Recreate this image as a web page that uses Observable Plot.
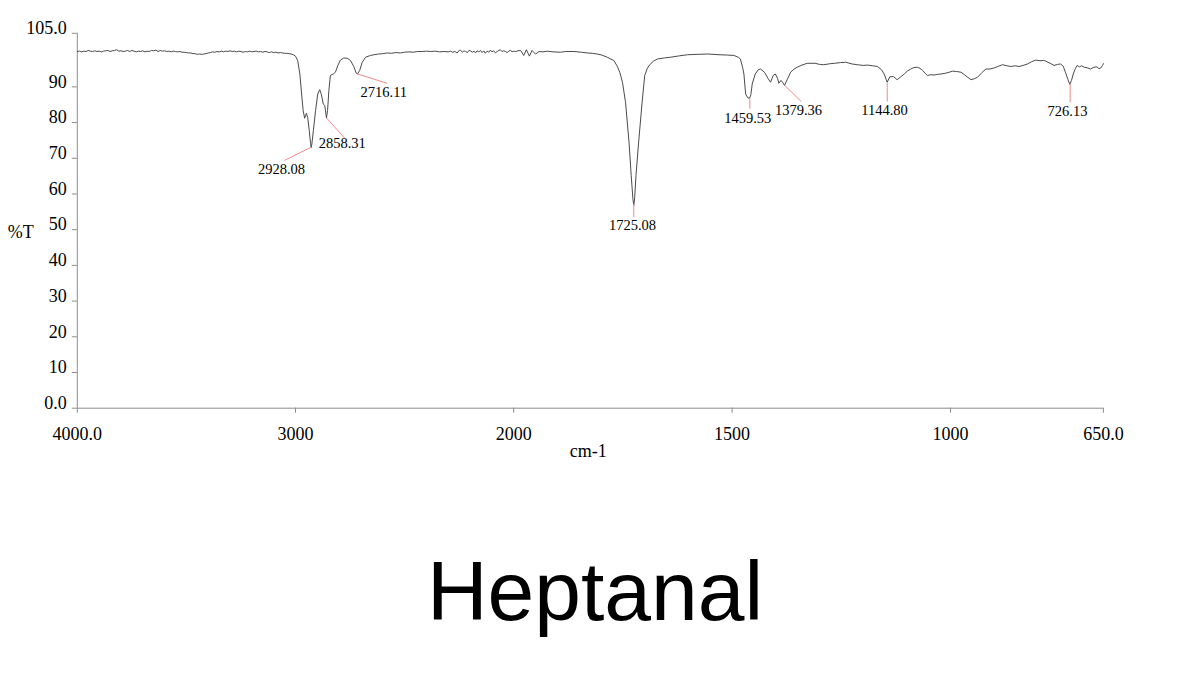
<!DOCTYPE html>
<html><head><meta charset="utf-8">
<script src="https://cdn.jsdelivr.net/npm/d3@7"></script>
<script src="https://cdn.jsdelivr.net/npm/@observablehq/plot@0.6"></script>
<style>
body{margin:0;background:#fff;width:1200px;height:685px;position:relative;overflow:hidden}
#chart{position:absolute;left:0;top:0}
#title{position:absolute;left:0;top:549px;width:1190px;text-align:center;font-family:"Liberation Sans",Arial,sans-serif;font-size:84px;line-height:1;color:#000}
</style></head><body>
<div id="chart"></div>
<div id="title">Heptanal</div>
<script>
// Spectrum (wavenumber cm-1, %T)
const wavenumbers = [
4000,3990,3980,3970,3960,3950,3940,3930,3920,3910,3900,3890,3880,3870,3860,3850,3840,3830,3820,3810,
3800,3790,3780,3770,3760,3750,3740,3730,3720,3710,3700,3690,3680,3670,3660,3650,3640,3630,3620,3610,
3600,3590,3580,3570,3560,3550,3540,3530,3520,3510,3500,3490,3480,3470,3460,3450,3440,3430,3420,3410,
3400,3390,3380,3370,3360,3350,3340,3330,3320,3310,3300,3290,3280,3270,3260,3250,3240,3230,3220,3210,
3200,3190,3180,3170,3160,3150,3140,3130,3120,3110,3100,3090,3080,3070,3060,3050,3040,3030,3020,3010,
3000,2990,2980,2972,2965,2958,2950,2944,2937,2931,2928,2925,2918,2908,2898,2889,2881,2873,2866,2858,
2853,2847,2840,2827,2817,2806,2794,2779,2763,2748,2733,2722,2716,2706,2694,2679,2656,2640,2620,2600,
2580,2560,2540,2520,2500,2480,2460,2440,2420,2400,2380,2360,2340,2320,2300,2290,2280,2270,2259,2250,
2244,2235,2228,2221,2212,2205,2198,2190,2182,2175,2168,2160,2152,2145,2137,2130,2122,2114,2107,2100,
2092,2084,2076,2068,2061,2054,2046,2038,2030,2022,2015,2008,2000,1996,1990,1984,1977,1971,1964,1958,
1950,1942,1933,1923,1910,1893,1880,1862,1845,1832,1820,1809,1798,1786,1771,1763,1757,1751,1744,1736,
1731,1727,1725,1723,1720,1714,1706,1700,1694,1690,1680,1671,1655,1641,1620,1602,1580,1556,1530,1510,
1496,1486,1481,1476,1473,1469,1464,1460,1457,1454,1447,1440,1435,1426,1418,1412,1406,1401,1396,1393,
1388,1384,1380,1374,1366,1358,1351,1340,1328,1310,1300,1290,1275,1265,1252,1240,1225,1213,1200,1190,
1178,1167,1158,1152,1145,1139,1131,1122,1114,1106,1098,1091,1084,1076,1070,1064,1058,1053,1045,1038,
1030,1022,1012,1003,995,986,976,968,962,953,945,938,928,919,910,900,890,881,871,862,
852,843,834,824,815,805,795,787,782,772,763,755,748,742,737,731,727,723,719,714,
710,705,700,694,686,679,672,665,660,656,652,650
];
const transmittance = [
99.9,100.0,99.8,100.0,99.9,100.2,100.0,99.9,100.1,99.9,100.0,99.8,100.0,100.1,100.2,99.9,100.1,100.2,100.4,100.0,
100.1,99.9,100.0,100.2,99.9,100.2,100.0,99.8,100.0,99.9,100.1,99.8,100.0,99.9,100.2,100.1,100.3,99.9,100.2,100.0,
100.1,99.9,100.0,99.8,100.0,99.9,99.8,99.9,99.7,99.7,99.6,99.5,99.5,99.3,99.3,99.1,99.2,99.1,99.2,99.3,
99.5,99.6,99.8,99.7,99.9,99.8,100.0,99.8,100.0,99.9,100.1,99.9,100.0,99.8,100.0,99.9,99.7,99.9,99.8,100.0,
99.8,99.9,100.0,99.8,99.9,99.7,99.9,99.8,99.6,99.8,99.6,99.7,99.5,99.6,99.5,99.4,99.4,99.3,99.2,99.0,
98.6,97.4,93.6,88.0,83.4,81.2,82.6,81.4,77.8,74.2,73.0,74.0,77.8,83.4,88.0,89.2,87.8,85.2,84.8,81.3,
83.4,89.0,93.2,93.6,94.1,96.0,97.5,98.1,98.0,97.4,95.7,93.9,93.6,94.6,96.9,98.3,98.8,99.0,99.2,99.3,
99.5,99.4,99.6,99.5,99.7,99.8,99.7,99.9,99.9,100.0,99.9,100.0,99.8,99.9,99.8,100.0,99.7,99.9,99.5,100.2,
100.3,99.7,100.1,99.9,99.6,100.2,100.1,99.7,100.0,99.5,100.1,99.8,100.2,99.6,100.1,99.4,100.0,99.7,100.3,99.8,
100.1,99.5,99.9,100.2,100.4,99.9,100.1,99.9,99.6,100.0,100.3,99.8,100.0,99.9,100.1,100.2,98.8,100.4,98.6,100.2,
99.2,99.9,99.8,100.0,99.8,99.7,99.9,99.9,99.7,99.5,99.4,99.2,98.9,98.3,97.4,95.8,94.0,91.3,85.7,74.5,
65.2,58.5,56.8,59.0,65.2,74.5,85.7,93.2,95.2,96.0,97.2,97.8,98.1,98.3,98.7,99.0,99.1,99.2,99.0,98.9,
98.8,98.3,97.8,95.5,93.6,88.0,86.9,86.8,87.8,90.8,93.6,94.8,95.0,94.1,92.4,91.3,93.2,93.6,92.4,91.0,
91.8,91.2,90.4,92.0,94.1,95.0,95.5,96.1,96.6,96.6,96.3,96.2,96.5,96.6,96.8,96.9,96.4,96.2,96.0,96.1,
95.9,95.7,94.8,93.6,91.3,92.8,92.9,92.0,92.8,93.6,94.5,95.0,95.4,95.5,95.2,94.6,93.8,93.2,93.4,93.3,
93.5,93.6,93.8,94.1,94.4,94.3,94.1,93.4,92.8,92.0,92.3,92.7,94.0,95.0,95.0,95.3,95.8,96.2,95.9,95.7,
95.9,95.7,96.0,96.4,97.0,97.5,97.3,97.4,97.2,96.6,96.0,96.3,96.4,95.8,94.1,92.0,90.7,91.8,93.6,95.2,
96.0,95.6,95.9,95.5,95.3,95.0,95.5,95.6,95.1,95.3,96.0,96.5
];

// Peak annotations
const peakLabels = ["2928.08","2858.31","2716.11","1725.08","1459.53","1379.36","1144.80","726.13"];
const peakWn     = [2928.08, 2858.31, 2716.11, 1725.08, 1459.53, 1379.36, 1144.80, 726.13];
const peakT      = [73.1, 81.3, 93.6, 57.3, 86.9, 90.4, 91.3, 90.9];
const leaderWn   = [3050.4, 2775.4, 2579.7, 1725.08, 1459.53, 1341.8, 1144.80, 726.13];
const leaderT    = [69.4, 75.7, 91.0, 53.5, 83.9, 85.9, 85.9, 85.7];
const labelWn    = [3064.2, 2786.0, 2595.3, 1728.0, 1464.1, 1348.0, 1151.0, 732.1];
const labelT     = [67.0, 74.2, 88.4, 51.1, 81.3, 83.5, 83.5, 83.2];

// Axes
const xBreaks = [4000, 2000, 650];
const xTicks = [4000, 3000, 2000, 1500, 1000, 650];
const yTicks = [0, 10, 20, 30, 40, 50, 60, 70, 80, 90, 105];

const spectrum = wavenumbers.map((w, i) => ({w, t: transmittance[i]}));
const peaks = peakLabels.map((label, i) => ({
  label, w: peakWn[i], t: peakT[i], lw: leaderWn[i], lt: leaderT[i], tw: labelWn[i], tt: labelT[i]
}));

const fmtX = d => (d === 4000 || d === 650) ? d.toFixed(1) : String(d);
const fmtY = d => (d === 0 || d === 105) ? d.toFixed(1) : String(d);

const axisGray = "#8c8c8c";

const svg = Plot.plot({
  width: 1200,
  height: 470,
  marginLeft: 76.8,
  marginRight: 97.1,
  marginTop: 32.8,
  marginBottom: 62.3,
  style: {fontFamily: '"Liberation Serif", "Times New Roman", serif', fontSize: "18px", background: "#fff", color: "#000"},
  x: {type: "linear", domain: xBreaks, range: [76.8, 513.2, 1102.9]},
  y: {domain: [0, 105]},
  marks: [
    Plot.ruleY([0], {stroke: axisGray}),
    Plot.ruleX([4000], {y1: 0, y2: 105, stroke: axisGray}),
    Plot.axisX(xTicks, {tickSize: 5, tickPadding: 14, stroke: axisGray, fill: "#000", tickFormat: fmtX, label: null}),
    Plot.axisY(yTicks, {tickSize: 5, stroke: axisGray, fill: "none", label: null}),
    Plot.axisY(yTicks, {tickSize: 0, tickPadding: 10.5, dy: -5, fill: "#000", tickFormat: fmtY, label: null}),
    Plot.line(spectrum, {x: "w", y: "t", stroke: "#4a4a4a", strokeWidth: 1}),
    Plot.link(peaks, {x1: "w", y1: "t", x2: "lw", y2: "lt", stroke: "#f28a8a", strokeWidth: 1}),
    Plot.text(peaks, {x: "tw", y: "tt", text: "label", fontSize: 14.5, fill: "#000"}),
    Plot.text(["%T"], {text: d => d, frameAnchor: "left", textAnchor: "middle", dx: -56.5, dy: 11, fill: "#000"}),
    Plot.text(["cm-1"], {text: d => d, frameAnchor: "bottom", textAnchor: "middle", dx: -2, dy: 48.5, fill: "#000"})
  ]
});
document.getElementById("chart").appendChild(svg);
</script>
</body></html>
